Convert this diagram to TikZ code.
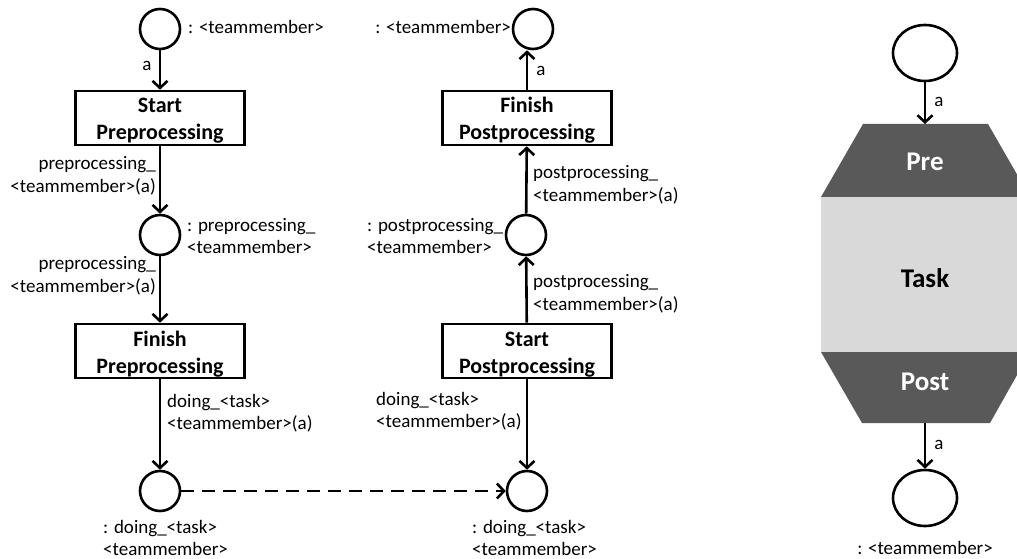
\documentclass[tikz,border=0pt]{standalone}
\usepackage{fontspec}
\setmainfont{Carlito}
\usetikzlibrary{arrows.meta,shapes.geometric}
\definecolor{darkband}{HTML}{595959}
\definecolor{lightband}{HTML}{D9D9D9}
\newcommand{\twolines}[2]{\raisebox{0pt}[20pt][30pt]{\begin{tabular}[t]{@{}c@{}}#1\\#2\end{tabular}}}
\tikzset{
  place/.style={circle,draw,line width=2.6pt,minimum size=40pt,inner sep=0pt},
  bigplace/.style={ellipse,draw,line width=2.6pt,minimum width=64pt,minimum height=56pt,inner sep=0pt},
  trans/.style={rectangle,draw,line width=2.6pt,minimum width=169pt,minimum height=54pt,inner sep=0pt,
    font=\fontsize{22}{27}\selectfont\bfseries},
  lbl/.style={inner sep=0pt,font=\fontsize{19}{22.5}\selectfont},
  arc/.style={line width=2.6pt,-{Straight Barb[length=7pt,width=15pt]}},
  dasharc/.style={arc,dash pattern=on 13pt off 8pt},
  bandlbl/.style={inner sep=0pt,font=\fontsize{27}{30}\selectfont\bfseries},
}
\begin{document}
\begin{tikzpicture}[x=1pt,y=-1pt]
\useasboundingbox (0,0) rectangle (1017,559);
\begin{scope}
\clip (0,0) rectangle (1017,559);
% ---------- left column ----------
\node[place] (p1) at (160,29) {};
\node[trans] (t1) at (160,118) {\twolines{Start}{Preprocessing}};
\node[place] (p2) at (160,235) {};
\node[trans] (t2) at (160,351) {\twolines{Finish}{Preprocessing}};
\node[place] (p3) at (160,491) {};
\draw[arc] (p1) -- (t1);
\draw[arc] (t1) -- (p2);
\draw[arc] (p2) -- (t2);
\draw[arc] (t2) -- (p3);
\node[lbl,anchor=west] (l1) at (188,27) {: <teammember>};
\node[lbl] (l2) at (147,66) {a};
\node[lbl,anchor=east,align=right] (l3) at (156,176) {preprocessing\_\\<teammember>(a)};
\node[lbl,anchor=west,align=left] (l4) at (187,236) {: preprocessing\_\\<teammember>};
\node[lbl,anchor=east,align=right] (l5) at (156,276) {preprocessing\_\\<teammember>(a)};
\node[lbl,anchor=west,align=left] (l6) at (167,413) {doing\_<task>\\<teammember>(a)};
\node[lbl,anchor=west,align=left] (l7) at (103,538) {: doing\_<task>\\<teammember>};
% ---------- right column ----------
\node[place] (q1) at (533,29) {};
\node[trans] (s1) at (527,118) {\twolines{Finish}{Postprocessing}};
\node[place] (q2) at (526,235) {};
\node[trans] (s2) at (527,351) {\twolines{Start}{Postprocessing}};
\node[place] (q3) at (527,491) {};
\draw[arc] (s1.north) -- (s1.north |- q1.south);
\draw[arc] (q2) -- (s1);
\draw[arc] (s2) -- (q2);
\draw[arc] (s2) -- (q3);
\draw[dasharc] (p3) -- (q3);
\node[lbl,anchor=east] (m1) at (511,27) {: <teammember>};
\node[lbl] (m2) at (541,71) {a};
\node[lbl,anchor=west,align=left] (m3) at (533,185) {postprocessing\_\\<teammember>(a)};
\node[lbl,anchor=west,align=left] (m4) at (367,236) {: postprocessing\_\\<teammember>};
\node[lbl,anchor=west,align=left] (m5) at (533,294) {postprocessing\_\\<teammember>(a)};
\node[lbl,anchor=west,align=left] (m6) at (376,411) {doing\_<task>\\<teammember>(a)};
\node[lbl,anchor=west,align=left] (m7) at (472,538) {: doing\_<task>\\<teammember>};
% ---------- right figure ----------
\fill[darkband] (863,124) -- (988,124) -- (1030,197) -- (821,197) -- cycle;
\fill[lightband] (821,197) rectangle (1030,352);
\fill[darkband] (821,352) -- (1030,352) -- (990,423) -- (862,423) -- cycle;
\coordinate (htop) at (925,124);
\coordinate (hbot) at (925,423);
\node[bandlbl,text=white] (pre) at (925,162) {Pre};
\node[bandlbl] (task) at (925,278) {Task};
\node[bandlbl,text=white] (post) at (925,382) {Post};
\node[bigplace] (e1) at (925,53) {};
\node[bigplace] (e2) at (925,498) {};
\draw[arc] (e1) -- (htop);
\draw[arc] (hbot) -- (e2);
\node[lbl] (n1) at (939,102) {a};
\node[lbl] (n2) at (939,445) {a};
\node[lbl] (n3) at (925,548) {: <teammember>};
\end{scope}
\end{tikzpicture}
\end{document}
